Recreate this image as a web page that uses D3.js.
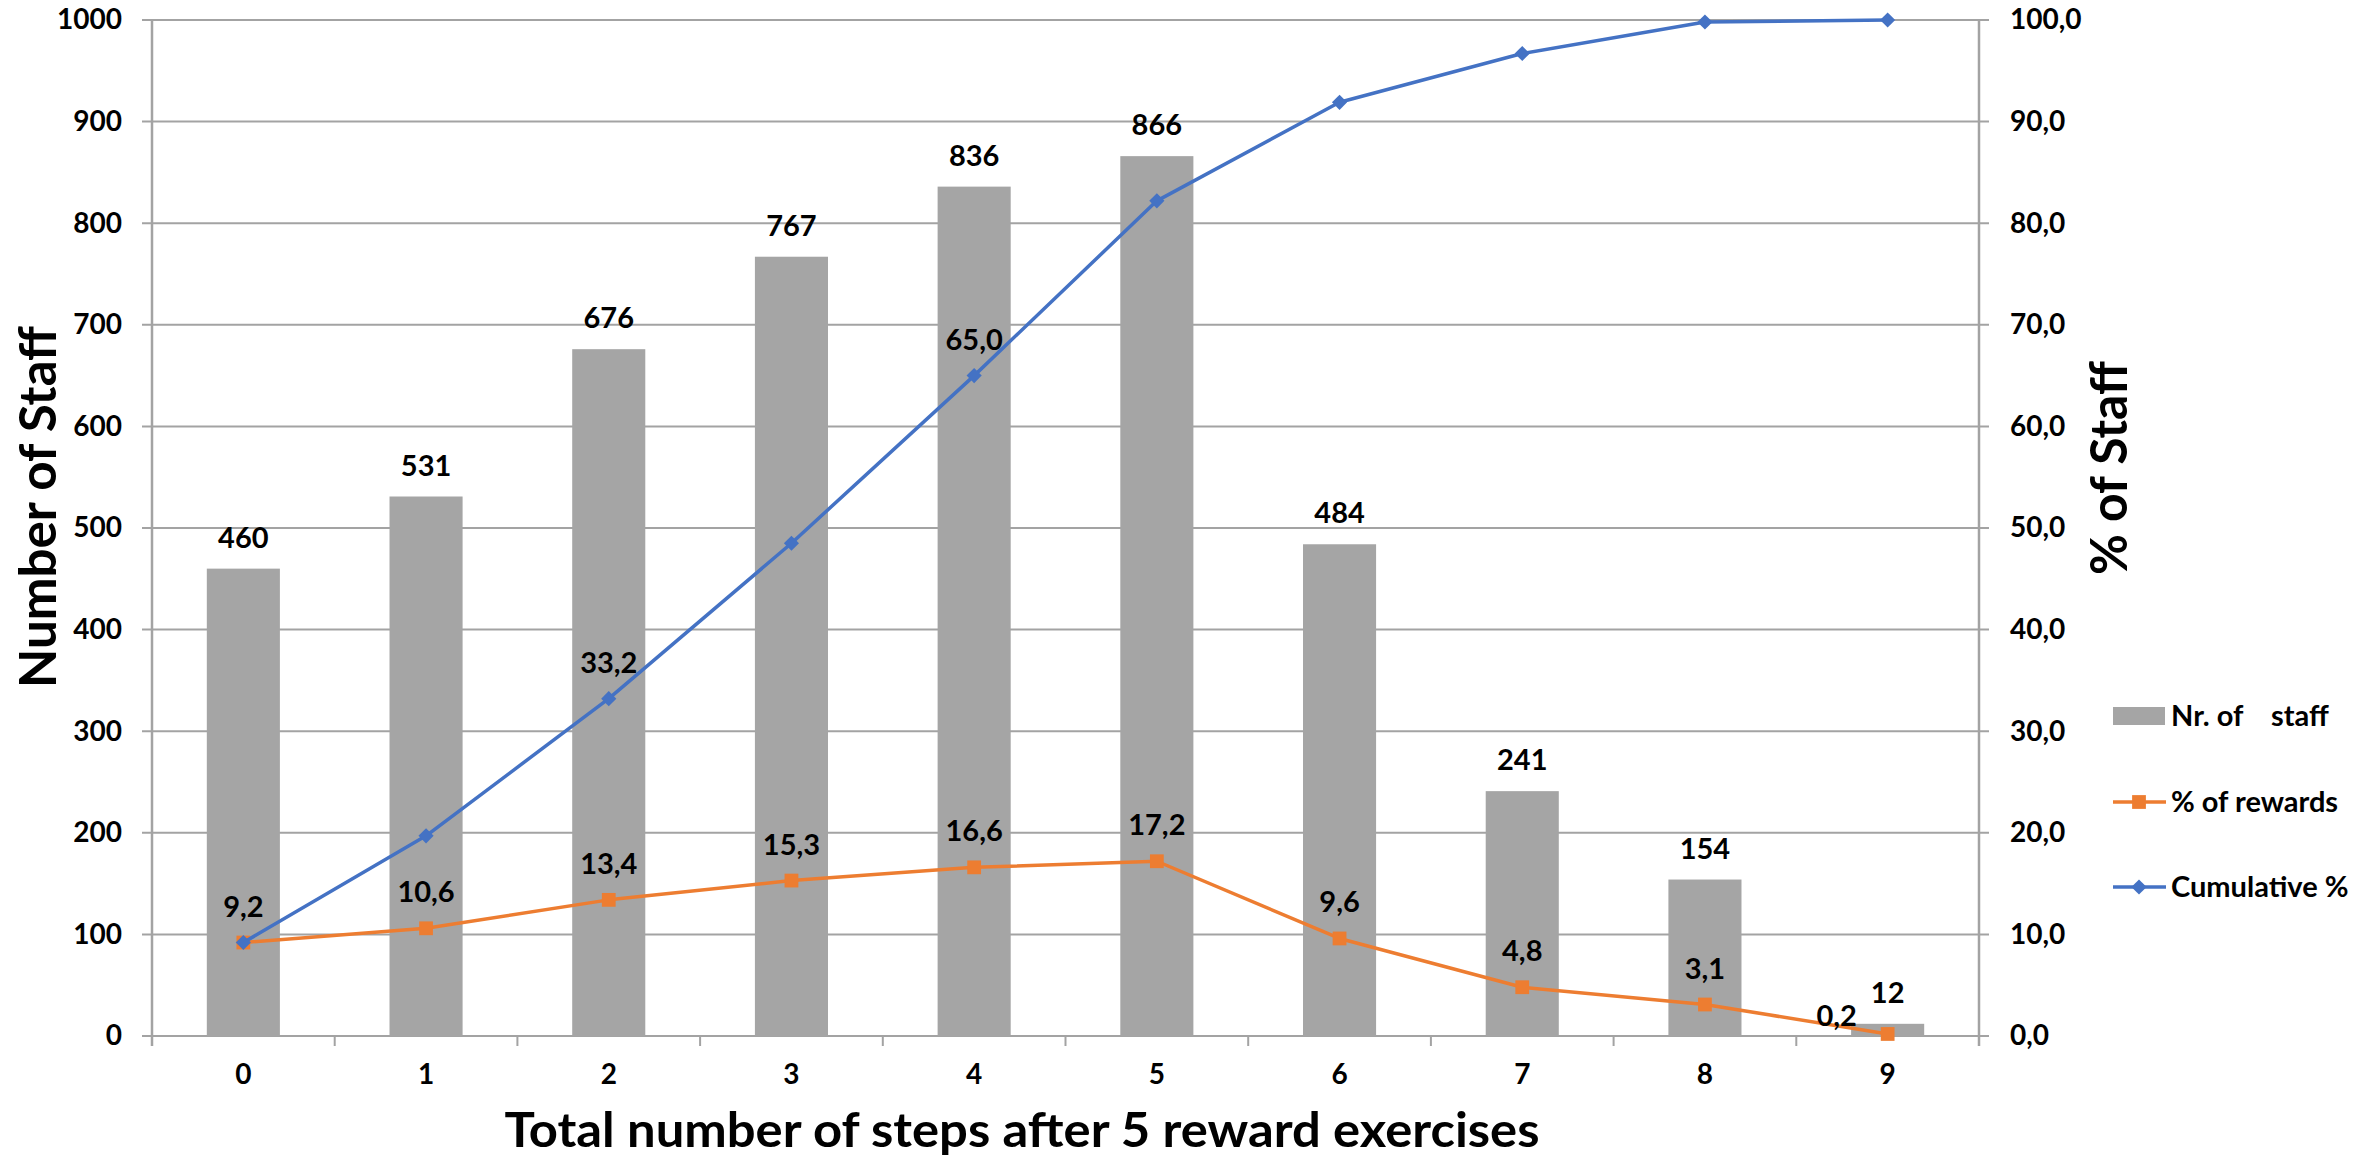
<!DOCTYPE html>
<html>
<head>
<meta charset="utf-8">
<script src="https://cdn.jsdelivr.net/npm/d3@7"></script>
<style>
  html, body { margin: 0; padding: 0; background: #fff; }
  svg { display: block; font-family: Lato, "Open Sans", sans-serif; font-weight: 700; }
</style>
</head>
<body>
<svg id="chart" width="2379" height="1156"></svg>
<script>
// Steps completed after five reward exercises
const categories = ["0", "1", "2", "3", "4", "5", "6", "7", "8", "9"];
const staffCounts = [460, 531, 676, 767, 836, 866, 484, 241, 154, 12];
const rewardPct = [9.2, 10.6, 13.4, 15.3, 16.6, 17.2, 9.6, 4.8, 3.1, 0.2];
const cumulativePct = [9.2, 19.7, 33.2, 48.5, 65.0, 82.2, 91.9, 96.7, 99.8, 100.0];
const cumulativeLabelled = ["2", "4"];
const leftTicks = [0, 100, 200, 300, 400, 500, 600, 700, 800, 900, 1000];
const rightTicks = [0, 10, 20, 30, 40, 50, 60, 70, 80, 90, 100];
const legendLabels = ["Nr. of    staff", "% of rewards", "Cumulative %"];

const COL_BAR = "#A5A5A5", COL_ORANGE = "#ED7D31", COL_BLUE = "#4472C4", COL_GRID = "#A3A3A3";

const svg = d3.select("#chart");
const plot = { left: 152, right: 1979, top: 20, bottom: 1036 };

const comma = d3.formatLocale({ decimal: ",", thousands: ".", grouping: [3], currency: ["", ""] });
const fmt1 = comma.format(".1f");

const x = d3.scaleBand().domain(categories)
  .range([plot.left, plot.right]).paddingInner(0.6).paddingOuter(0.3);
const step = x.step();
const cx = c => x(c) + x.bandwidth() / 2;
const yL = d3.scaleLinear().domain([0, 1000]).range([plot.bottom, plot.top]);
const yR = d3.scaleLinear().domain([0, 100]).range([plot.bottom, plot.top]);

// horizontal gridlines, reaching slightly past both axes
svg.append("g").selectAll("line").data(leftTicks).join("line")
  .attr("x1", plot.left - 10).attr("x2", plot.right + 10)
  .attr("y1", d => yL(d)).attr("y2", d => yL(d))
  .attr("stroke", COL_GRID).attr("stroke-width", 2);

// vertical axis lines
[plot.left, plot.right].forEach(px => {
  svg.append("line").attr("x1", px).attr("x2", px)
    .attr("y1", plot.top).attr("y2", plot.bottom + 10)
    .attr("stroke", COL_GRID).attr("stroke-width", 2.5);
});

// category boundary ticks below the baseline
const bounds = d3.range(categories.length + 1).map(i => plot.left + i * step);
svg.append("g").selectAll("line").data(bounds).join("line")
  .attr("x1", d => d).attr("x2", d => d)
  .attr("y1", plot.bottom).attr("y2", plot.bottom + 10)
  .attr("stroke", COL_GRID).attr("stroke-width", 2);

function styleTicks(g) {
  g.select(".domain").remove();
  g.selectAll("text").attr("font-size", 28).attr("font-family", "Lato")
    .attr("font-weight", 700).attr("fill", "#000");
}

// left axis labels
svg.append("g").attr("transform", `translate(${plot.left - 30},0)`)
  .call(d3.axisLeft(yL).tickValues(leftTicks).tickSize(0).tickPadding(0).tickFormat(d3.format("d")))
  .call(styleTicks);

// right axis labels
svg.append("g").attr("transform", `translate(${plot.right + 31},0)`)
  .call(d3.axisRight(yR).tickValues(rightTicks).tickSize(0).tickPadding(0).tickFormat(fmt1))
  .call(styleTicks);

// category labels
svg.append("g").attr("transform", `translate(0,${plot.bottom + 28})`)
  .call(d3.axisBottom(x).tickSize(0).tickPadding(0))
  .call(styleTicks);

// bars
svg.append("g").selectAll("rect").data(staffCounts).join("rect")
  .attr("x", (d, i) => x(categories[i])).attr("width", x.bandwidth())
  .attr("y", d => yL(d)).attr("height", d => plot.bottom - yL(d))
  .attr("fill", COL_BAR);

// bar value labels
svg.append("g").selectAll("text").data(staffCounts).join("text")
  .attr("x", (d, i) => cx(categories[i])).attr("y", d => yL(d) - 21)
  .attr("text-anchor", "middle").attr("font-size", 29).attr("fill", "#000")
  .text(d => d);

const line = d3.line();
const sqr = d3.symbol().type(d3.symbolSquare);

// % of rewards line
const orangePts = rewardPct.map((v, i) => [cx(categories[i]), yR(v)]);
svg.append("path").attr("d", line(orangePts)).attr("fill", "none")
  .attr("stroke", COL_ORANGE).attr("stroke-width", 3.5).attr("stroke-linejoin", "round");
svg.append("g").selectAll("path").data(orangePts).join("path")
  .attr("d", sqr.size(190)()).attr("transform", d => `translate(${d[0]},${d[1]})`)
  .attr("fill", COL_ORANGE);

// cumulative line
const bluePts = cumulativePct.map((v, i) => [cx(categories[i]), yR(v)]);
svg.append("path").attr("d", line(bluePts)).attr("fill", "none")
  .attr("stroke", COL_BLUE).attr("stroke-width", 3.5).attr("stroke-linejoin", "round");
svg.append("g").selectAll("path").data(bluePts).join("path")
  .attr("d", sqr.size(115)()).attr("transform", d => `translate(${d[0]},${d[1]}) rotate(45)`)
  .attr("fill", COL_BLUE);

// % of rewards labels (the last one sits left of its point, clear of the bar label)
const last = rewardPct.length - 1;
svg.append("g").selectAll("text").data(rewardPct).join("text")
  .attr("x", (d, i) => cx(categories[i]) + (i === last ? -51 : 0))
  .attr("y", (d, i) => yR(d) - (i === last ? 8 : 26))
  .attr("text-anchor", "middle").attr("font-size", 29).attr("fill", "#000")
  .text(d => fmt1(d));

// cumulative labels for selected categories
svg.append("g").selectAll("text")
  .data(cumulativePct.map((v, i) => ({ v, c: categories[i] })).filter(d => cumulativeLabelled.includes(d.c)))
  .join("text")
  .attr("x", d => cx(d.c)).attr("y", d => yR(d.v) - 26)
  .attr("text-anchor", "middle").attr("font-size", 29).attr("fill", "#000")
  .text(d => fmt1(d.v));

// axis titles
svg.append("text").attr("transform", "translate(56,507) rotate(-90)")
  .attr("text-anchor", "middle").attr("font-size", 52).attr("fill", "#000")
  .attr("textLength", 362).attr("lengthAdjust", "spacingAndGlyphs")
  .text("Number of Staff");
svg.append("text").attr("transform", "translate(2127,468) rotate(-90)")
  .attr("text-anchor", "middle").attr("font-size", 52).attr("fill", "#000")
  .attr("textLength", 214).attr("lengthAdjust", "spacingAndGlyphs")
  .text("% of Staff");
svg.append("text").attr("x", 1022).attr("y", 1147)
  .attr("text-anchor", "middle").attr("font-size", 48).attr("fill", "#000")
  .attr("textLength", 1035).attr("lengthAdjust", "spacingAndGlyphs")
  .text("Total number of steps after 5 reward exercises");

// legend
const lg = svg.append("g");
const rows = [716, 802, 887];
const sw = 2113;
lg.append("rect").attr("x", sw).attr("y", rows[0] - 9).attr("width", 52).attr("height", 18).attr("fill", COL_BAR);
lg.append("line").attr("x1", sw).attr("x2", sw + 53).attr("y1", rows[1]).attr("y2", rows[1])
  .attr("stroke", COL_ORANGE).attr("stroke-width", 3.5);
lg.append("path").attr("d", sqr.size(190)()).attr("transform", `translate(${sw + 26},${rows[1]})`).attr("fill", COL_ORANGE);
lg.append("line").attr("x1", sw).attr("x2", sw + 53).attr("y1", rows[2]).attr("y2", rows[2])
  .attr("stroke", COL_BLUE).attr("stroke-width", 3.5);
lg.append("path").attr("d", sqr.size(115)()).attr("transform", `translate(${sw + 26},${rows[2]}) rotate(45)`).attr("fill", COL_BLUE);
lg.selectAll("text").data(legendLabels).join("text")
  .attr("x", sw + 58).attr("y", (d, i) => rows[i]).attr("dy", "0.35em")
  .attr("font-size", 29).attr("fill", "#000").style("white-space", "pre")
  .text(d => d);
</script>
</body>
</html>
